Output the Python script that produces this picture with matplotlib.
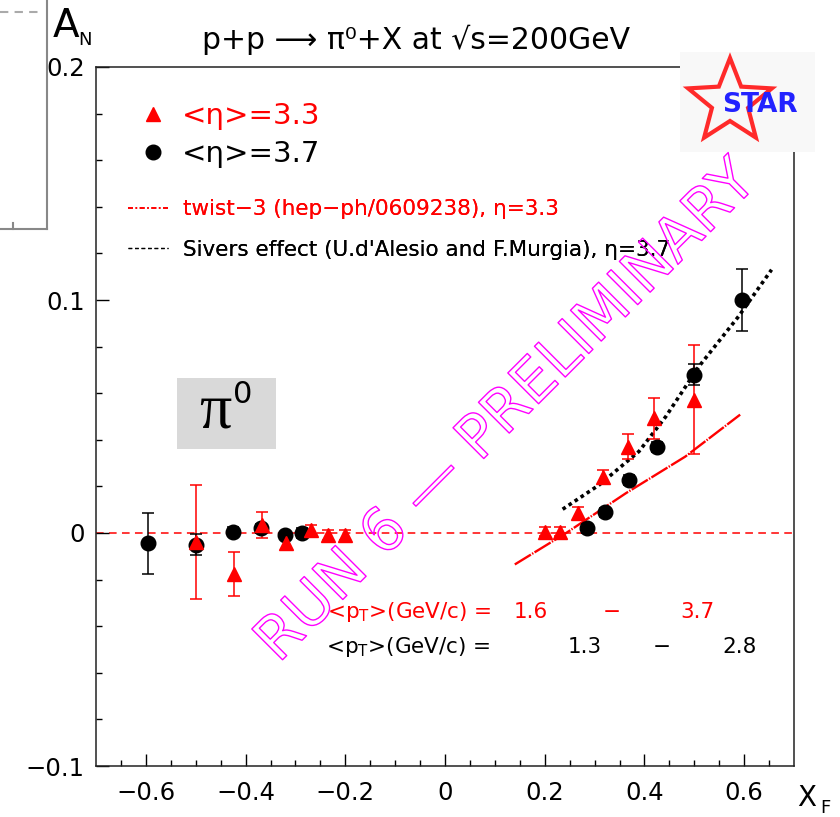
import numpy as np
import matplotlib
matplotlib.use("Agg")
import matplotlib.pyplot as plt
from matplotlib.lines import Line2D
from matplotlib.patches import Rectangle, Polygon
import matplotlib.patheffects as pe

# ---- data -------------------------------------------------------------
# <eta> = 3.3 (red triangles)
xf_eta33 = [-0.500, -0.423, -0.368, -0.319, -0.268, -0.234, -0.200,
            0.200, 0.231, 0.267, 0.317, 0.368, 0.420, 0.499]
an_eta33 = [-0.0040, -0.0176, 0.0034, -0.0042, 0.0013, -0.0009, -0.0009,
            0.0006, 0.0006, 0.0087, 0.0242, 0.0371, 0.0493, 0.0572]
err_eta33 = [0.0244, 0.0095, 0.0054, 0.0030, 0.0020, 0.0020, 0.0020,
             0.0020, 0.0020, 0.0025, 0.0030, 0.0054, 0.0088, 0.0233]

# <eta> = 3.7 (black circles)
xf_eta37 = [-0.595, -0.499, -0.426, -0.369, -0.321, -0.286,
            0.285, 0.321, 0.369, 0.425, 0.499, 0.595]
an_eta37 = [-0.0045, -0.0050, 0.0005, 0.0020, -0.0010, 0.0000,
            0.0020, 0.0089, 0.0228, 0.0369, 0.0680, 0.1002]
err_eta37 = [0.0130, 0.0045, 0.0020, 0.0020, 0.0016, 0.0020,
             0.0020, 0.0020, 0.0020, 0.0020, 0.0046, 0.0133]

# theory curves
twist3_x = [0.140, 0.243, 0.363, 0.482, 0.592]
twist3_y = [-0.0135, 0.0000, 0.0171, 0.0328, 0.0508]
sivers_x = [0.236, 0.309, 0.389, 0.443, 0.509, 0.589, 0.655]
sivers_y = [0.0102, 0.0206, 0.0350, 0.0500, 0.0714, 0.0930, 0.1130]

x_ticks = [-0.6, -0.4, -0.2, 0, 0.2, 0.4, 0.6]
x_ticklabels = ["\u22120.6", "\u22120.4", "\u22120.2", "0", "0.2", "0.4", "0.6"]
y_ticks = [-0.1, 0, 0.1, 0.2]
y_ticklabels = ["\u22120.1", "0", "0.1", "0.2"]

legend_labels = ["<\u03b7>=3.3", "<\u03b7>=3.7"]
theory_labels = ["twist\u22123 (hep\u2212ph/0609238), \u03b7=3.3",
                 "Sivers effect (U.d'Alesio and F.Murgia), \u03b7=3.7"]
pt_label = r"<p$_{\rm T}$>(GeV/c) ="
pt_range_eta33 = ["1.6", "\u2212", "3.7"]
pt_range_eta37 = ["1.3", "\u2212", "2.8"]

# ---- figure -----------------------------------------------------------
W, H = 840, 817
fig = plt.figure(figsize=(W / 100, H / 100), dpi=100)
plt.rcParams["font.family"] = ["DejaVu Sans"]


def fx(px):
    return px / W


def fy(py):
    return 1 - py / H


ax = fig.add_axes([fx(96), fy(766), (794 - 96) / W, (766 - 67) / H])
ax.set_xlim(-0.7, 0.7)
ax.set_ylim(-0.1, 0.2)

for s in ax.spines.values():
    s.set_linewidth(1.1)
    s.set_color("#222222")

ax.set_xticks(x_ticks)
ax.set_xticklabels(x_ticklabels)
ax.set_yticks(y_ticks)
ax.set_yticklabels(y_ticklabels)
ax.set_xticks(np.arange(-0.65, 0.66, 0.05), minor=True)
ax.set_yticks(np.arange(-0.1, 0.201, 0.02), minor=True)
ax.tick_params(which="both", direction="in", top=False, right=False, width=1.0)
ax.tick_params(which="major", length=9)
ax.tick_params(which="minor", length=4.5)
ax.tick_params(axis="x", which="major", labelsize=17.5, pad=11)
ax.tick_params(axis="y", which="major", labelsize=17.5, pad=8)

# zero line
ax.axhline(0, color="red", lw=1.1, ls=(0, (5, 3.5)), zorder=1)

# theory curves
ax.plot(twist3_x, twist3_y, color="red", lw=1.7, ls=(0, (8, 0.6, 0.6, 0.6)), zorder=2)
ax.plot(sivers_x, sivers_y, color="black", lw=2.6, ls=(0, (1.0, 1.0)), zorder=2)

# data
ax.errorbar(xf_eta33, an_eta33, yerr=err_eta33, fmt="none", ecolor="red",
            elinewidth=1.1, capsize=4.6, capthick=1.1, zorder=3)
ax.errorbar(xf_eta37, an_eta37, yerr=err_eta37, fmt="o", color="black",
            ms=10.5, elinewidth=1.1, capsize=4.6, capthick=1.1, zorder=4)
ax.plot(xf_eta33, an_eta33, ls="none", marker="^", color="red", ms=9.8, zorder=5)

# legends
h_marks = [Line2D([], [], ls="none", marker="^", color="red", ms=9.8),
           Line2D([], [], ls="none", marker="o", color="black", ms=10.5)]
leg1 = ax.legend(h_marks, legend_labels, loc="center left",
                 bbox_to_anchor=(fx(138.5), fy(135)), bbox_transform=fig.transFigure,
                 frameon=False, fontsize=21, handlelength=1.0, handletextpad=0.5,
                 labelspacing=0.36, borderpad=0, borderaxespad=0, numpoints=1)
for t, c in zip(leg1.get_texts(), ["red", "black"]):
    t.set_color(c)
ax.add_artist(leg1)

h_lines = [Line2D([], [], color="red", lw=1.2, ls=(0, (3, 1.5, 1, 1.5))),
           Line2D([], [], color="black", lw=0.9, ls=(0, (3, 2.2)))]
leg2 = ax.legend(h_lines, theory_labels, loc="center left",
                 bbox_to_anchor=(fx(128), fy(229.5)), bbox_transform=fig.transFigure,
                 frameon=False, fontsize=15.5, handlelength=1.86, handletextpad=0.7,
                 labelspacing=0.93, borderpad=0, borderaxespad=0)
for t, c in zip(leg2.get_texts(), ["red", "black"]):
    t.set_color(c)
ax.add_artist(leg2)

# <pT> ranges
fig.text(fx(327), fy(612), pt_label, color="red", fontsize=15.5, ha="left", va="center")
for s, px in zip(pt_range_eta33, [531, 612, 697]):
    fig.text(fx(px), fy(612), s, color="red", fontsize=15.5, ha="center", va="center")
fig.text(fx(326), fy(647), pt_label, color="black", fontsize=15.5, ha="left", va="center")
for s, px in zip(pt_range_eta37, [585, 662, 740]):
    fig.text(fx(px), fy(647), s, color="black", fontsize=15.5, ha="center", va="center")

# pi0 box
fig.patches.append(Rectangle((fx(177), fy(449)), (276 - 177) / W, (449 - 378) / H,
                             transform=fig.transFigure, facecolor="#d9d9d9",
                             edgecolor="none", zorder=3))
fig.text(fx(215), fy(427), "\u03c0", family="Liberation Serif", fontsize=46,
         ha="center", va="baseline", zorder=4)
fig.text(fx(243), fy(395), "0", fontsize=22, ha="center", va="center", zorder=4)

# axis titles and header
fig.text(fx(53), fy(37), "A", fontsize=28, ha="left", va="baseline")
fig.text(fx(78), fy(45), "N", fontsize=13, ha="left", va="baseline")
fig.text(fx(797), fy(806), "X", fontsize=20, ha="left", va="baseline")
fig.text(fx(820), fy(813), "F", fontsize=13, ha="left", va="baseline")
fig.text(fx(416), fy(49), "p+p \u27f6 \u03c0\u2070+X at \u221as=200GeV", fontsize=21.5,
         ha="center", va="baseline")

# neighbouring panel edge
edge_kw = dict(transform=fig.transFigure, color="#888888", lw=1.5)
fig.add_artist(Line2D([fx(47), fx(47)], [fy(0), fy(229)], **edge_kw))
fig.add_artist(Line2D([fx(0), fx(47)], [fy(229), fy(229)], **edge_kw))
fig.add_artist(Line2D([fx(13), fx(13)], [fy(229), fy(223)], **edge_kw))
fig.add_artist(Line2D([fx(0), fx(42)], [fy(12), fy(12)], transform=fig.transFigure,
                      color="#aaaaaa", lw=1.5, ls=(0, (4, 3))))

# STAR logo
fig.patches.append(Rectangle((fx(680), fy(152)), (815 - 680) / W, (152 - 52) / H,
                             transform=fig.transFigure, facecolor="#f8f8f8",
                             edgecolor="none", zorder=6))
cx, cy, R, r = 730, 102, 44, 19
ang = np.pi / 2 + np.arange(10) * np.pi / 5
rad = np.where(np.arange(10) % 2 == 0, R, r)
star_px = np.column_stack([cx + rad * np.cos(ang), cy - rad * np.sin(ang)])
star_fig = np.column_stack([star_px[:, 0] / W, 1 - star_px[:, 1] / H])
fig.patches.append(Polygon(star_fig, closed=True, transform=fig.transFigure,
                           facecolor="none", edgecolor="#ff2a2a", lw=3.0, zorder=7))
fig.text(fx(722), fy(105), "STAR", color="#2222ff", fontsize=19, fontweight="bold",
         ha="left", va="center", zorder=8)

# preliminary stamp
fig.text(fx(507), fy(412), "RUN 6 \u2014 PRELIMINARY", fontsize=43, rotation=45,
         rotation_mode="anchor", ha="center", va="center", color=(1, 1, 1, 0),
         path_effects=[pe.Stroke(linewidth=1.0, foreground="magenta")], zorder=9)

fig.savefig("out.png", dpi=100)
